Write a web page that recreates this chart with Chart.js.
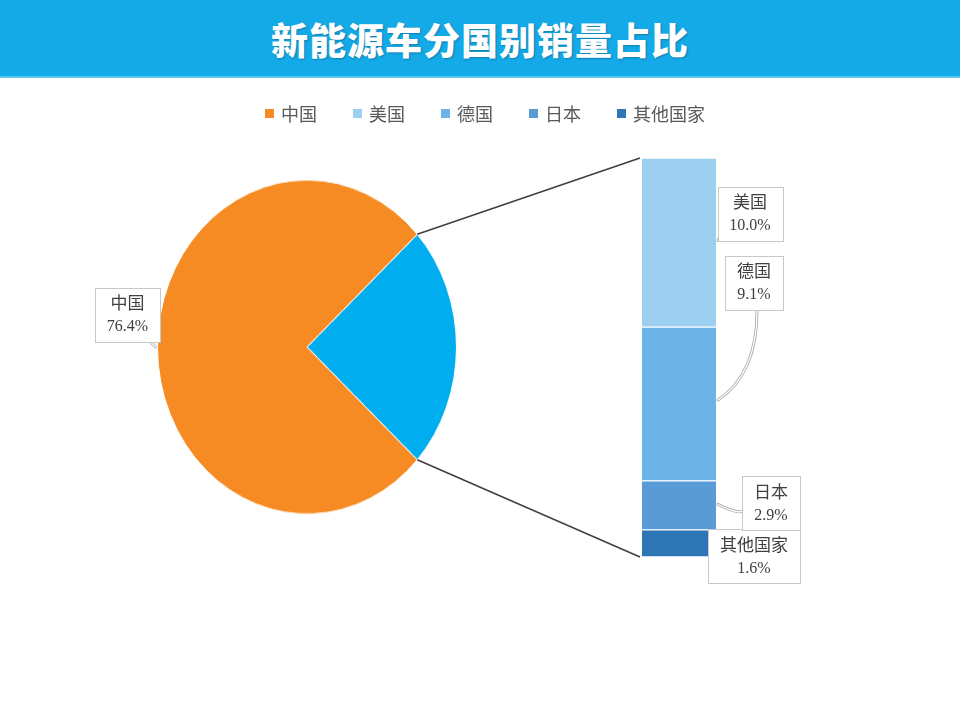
<!DOCTYPE html>
<html>
<head>
<meta charset="utf-8">
<script src="https://cdn.jsdelivr.net/npm/chart.js@4"></script>
<style>
  body { margin: 0; background: #fff; width: 960px; height: 720px; overflow: hidden; position: relative; font-family: "Noto Sans CJK SC", sans-serif; }
  #title { position: absolute; left: 0; top: 0; width: 960px; height: 76px; background: #14a9e7; border-bottom: 2px solid #5cc6f0;
           color: #fff; font-size: 37px; font-weight: 900; text-align: center; line-height: 78px; letter-spacing: 1px;
           text-shadow: 1px 1px 2px rgba(0,0,0,0.25); z-index: 3; }
  #legend { position: absolute; left: 5px; top: 99px; width: 960px; height: 28px; display: flex; justify-content: center; align-items: center; z-index: 3; }
  .item { display: flex; align-items: center; margin: 0 18px; font-size: 18px; color: #595959; }
  .sw { width: 9px; height: 9px; margin-right: 7px; }
  canvas { position: absolute; left: 0; top: 0; }
</style>
</head>
<body>
<div id="title">新能源车分国别销量占比</div>
<div id="legend"></div>
<canvas id="pie" width="960" height="720"></canvas>
<canvas id="bar" width="960" height="720"></canvas>
<script>
// pie: China vs. the rest
var pieLabels = ['其他', '中国'];
var pieValues = [23.6, 76.4];
var pieColors = ['#00aeef', '#f68b23'];

// bar: breakdown of the rest, bottom to top
var barLabels = ['其他国家', '日本', '德国', '美国'];
var barValues = [1.6, 2.9, 9.1, 10.0];
var barColors = ['#2e75b6', '#5b9bd5', '#6cb4e8', '#9dcff0'];

// legend order
var legendLabels = ['中国', '美国', '德国', '日本', '其他国家'];
var legendColors = ['#f68b23', '#9dcff0', '#6cb4e8', '#5b9bd5', '#2e75b6'];

var legend = document.getElementById('legend');
legendLabels.forEach(function (l, i) {
  var d = document.createElement('div');
  d.className = 'item';
  d.innerHTML = '<span class="sw" style="background:' + legendColors[i] + '"></span>' + l;
  legend.appendChild(d);
});

var squashY = 1.117;
var restShare = pieValues[0] / (pieValues[0] + pieValues[1]);

var pieChart = new Chart(document.getElementById('pie'), {
  type: 'pie',
  data: {
    labels: pieLabels,
    datasets: [{ data: pieValues, backgroundColor: pieColors, borderColor: '#fff', borderWidth: 1 }]
  },
  options: {
    responsive: false,
    animation: false,
    rotation: 90 - restShare * 180,
    layout: { padding: { left: 157, right: 503, top: 197, bottom: 223 } },
    plugins: { legend: { display: false }, tooltip: { enabled: false } }
  }
});

var pieArc = pieChart.getDatasetMeta(0).data[0];
var pieCanvas = document.getElementById('pie');
pieCanvas.style.transformOrigin = pieArc.x + 'px ' + pieArc.y + 'px';
pieCanvas.style.transform = 'scaleY(' + squashY + ')';

// screen position of a point on the pie rim
function rim(angle) {
  var a = pieChart.getDatasetMeta(0).data[0];
  return { x: a.x + a.outerRadius * Math.cos(angle), y: a.y + a.outerRadius * Math.sin(angle) * squashY };
}

function labelBox(ctx, cx, cy, name, value) {
  var top = name, bottom = value.toFixed(1) + '%';
  var f1 = '17px "Noto Sans CJK SC"', f2 = '16px "Liberation Serif"';
  ctx.font = f1;
  var w1 = ctx.measureText(top).width;
  ctx.font = f2;
  var w2 = ctx.measureText(bottom).width;
  var w = Math.round(Math.max(w1, w2) + 24);
  var h = 54;
  var x0 = Math.round(cx - w / 2), y0 = Math.round(cy - h / 2);
  ctx.fillStyle = '#fff';
  ctx.strokeStyle = '#c8c8c8';
  ctx.lineWidth = 1;
  ctx.fillRect(x0, y0, w, h);
  ctx.strokeRect(x0 + 0.5, y0 + 0.5, w, h);
  ctx.fillStyle = '#404040';
  ctx.textAlign = 'center';
  ctx.textBaseline = 'middle';
  ctx.font = f1;
  ctx.fillText(top, cx, cy - 12);
  ctx.font = f2;
  ctx.fillText(bottom, cx, cy + 12);
}

function leader(ctx, pts) {
  ctx.lineCap = 'round';
  [['#b0b0b0', 3], ['#fff', 1.2]].forEach(function (s) {
    ctx.strokeStyle = s[0];
    ctx.lineWidth = s[1];
    ctx.beginPath();
    ctx.moveTo(pts[0], pts[1]);
    if (pts.length === 6) ctx.quadraticCurveTo(pts[2], pts[3], pts[4], pts[5]);
    else ctx.lineTo(pts[2], pts[3]);
    ctx.stroke();
  });
}

// box offsets from each segment's right edge / middle
var barLabelOffsets = [[38, 13], [55, -2], [38, -121], [34, -28.5]];

var overlay = {
  id: 'overlay',
  afterDraw: function (chart) {
    var ctx = chart.ctx;
    ctx.save();
    var segs = barValues.map(function (v, i) { return chart.getDatasetMeta(i).data[0]; });
    var top = segs[segs.length - 1], bot = segs[0];
    var left = top.x - top.width / 2, right = top.x + top.width / 2;
    var a = pieChart.getDatasetMeta(0).data[0];
    var p1 = rim(a.startAngle), p2 = rim(a.endAngle);

    // connector lines from pie to bar
    ctx.strokeStyle = '#404040';
    ctx.lineWidth = 1.6;
    ctx.beginPath();
    ctx.moveTo(p1.x, p1.y); ctx.lineTo(left - 2, top.y);
    ctx.moveTo(p2.x, p2.y); ctx.lineTo(left - 2, bot.base);
    ctx.stroke();

    // leaders
    var de = segs[2], jp = segs[1], us = segs[3];
    leader(ctx, [right + 2, (us.y + us.base) / 2 - 2, right + 3, (us.y + us.base) / 2 - 4]);
    leader(ctx, [right + 41, (de.y + de.base) / 2 - 93, right + 41, (de.y + de.base) / 2 - 30, right + 2, (de.y + de.base) / 2 - 4]);
    leader(ctx, [right + 2, (jp.y + jp.base) / 2 - 1, right + 20, (jp.y + jp.base) / 2 + 8, right + 26, (jp.y + jp.base) / 2 + 6]);

    // bar labels
    segs.forEach(function (el, i) {
      var o = barLabelOffsets[i];
      labelBox(ctx, right + o[0], (el.y + el.base) / 2 + o[1], barLabels[i], barValues[i]);
    });

    // China label on the left of the pie
    var cn = rim(Math.PI);
    leader(ctx, [cn.x - 7, cn.y - 5, cn.x - 2, cn.y]);
    labelBox(ctx, cn.x - 30, cn.y - 32, pieLabels[1], pieValues[1]);
    ctx.restore();
  }
};

new Chart(document.getElementById('bar'), {
  type: 'bar',
  data: {
    labels: ['其他'],
    datasets: barValues.map(function (v, i) {
      return {
        label: barLabels[i],
        data: [v],
        backgroundColor: barColors[i],
        borderColor: '#fff',
        borderWidth: { top: 1, bottom: 1, left: 0, right: 0 },
        borderSkipped: false,
        barPercentage: 1,
        categoryPercentage: 1
      };
    })
  },
  options: {
    responsive: false,
    animation: false,
    layout: { padding: { left: 642, right: 244, top: 158, bottom: 163 } },
    scales: {
      x: { stacked: true, display: false },
      y: { stacked: true, display: false, min: 0, max: pieValues[0] }
    },
    plugins: { legend: { display: false }, tooltip: { enabled: false } }
  },
  plugins: [overlay]
});
</script>
</body>
</html>
